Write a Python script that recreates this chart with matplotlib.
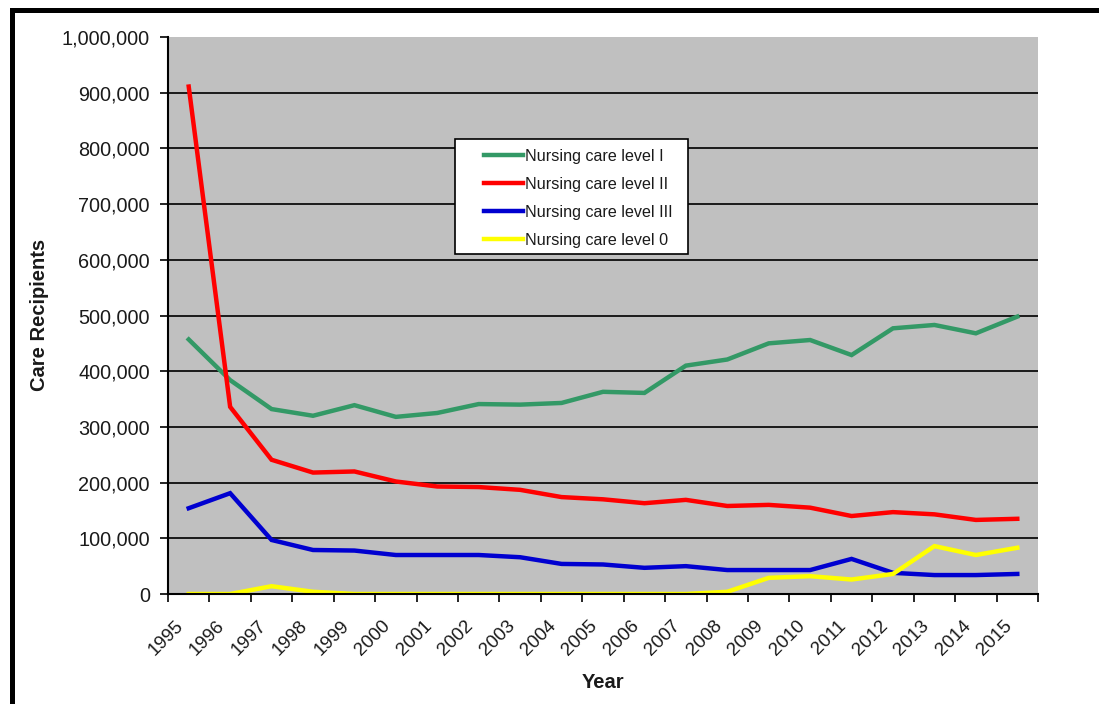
import matplotlib
matplotlib.use("Agg")
import matplotlib.pyplot as plt
from matplotlib.patches import Rectangle
from matplotlib.ticker import FuncFormatter, FixedLocator
from matplotlib.transforms import ScaledTranslation

plt.rcParams["font.family"] = ["Liberation Sans", "DejaVu Sans"]

years = [str(y) for y in range(1995, 2016)]

level_1 = [457000, 384000, 332000, 320000, 339000, 318000, 325000, 341000, 340000, 343000,
           363000, 361000, 410000, 421000, 450000, 456000, 429000, 477000, 483000, 468000, 498000]
level_2 = [911000, 336000, 241000, 218000, 220000, 202000, 193000, 192000, 187000, 174000,
           170000, 163000, 169000, 158000, 160000, 155000, 140000, 147000, 143000, 133000, 135000]
level_3 = [154000, 181000, 97000, 79000, 78000, 70000, 70000, 70000, 66000, 54000,
           53000, 47000, 50000, 43000, 43000, 43000, 63000, 38000, 34000, 34000, 36000]
level_0 = [0, 0, 14000, 4000, 0, 0, 0, 0, 0, 0,
           0, 0, 0, 4000, 29000, 32000, 26000, 36000, 86000, 70000, 83000]

series = [
    ("Nursing care level I", level_1, "#339966"),
    ("Nursing care level II", level_2, "#ff0000"),
    ("Nursing care level III", level_3, "#0000d0"),
    ("Nursing care level 0", level_0, "#ffff00"),
]

W, H = 1099, 704
fig = plt.figure(figsize=(W / 100, H / 100), dpi=100)
fig.patch.set_facecolor("white")

# outer black frame (cut off on the right and bottom like the original)
fig.patches.append(Rectangle((11.5 / W, -0.05), 1.2, (1 - 9.5 / H) + 0.05,
                             transform=fig.transFigure, fill=False,
                             lw=3.6, ec="black"))

ax = fig.add_axes([168 / W, 1 - 594 / H, (1038 - 168) / W, (594 - 37) / H])
ax.set_facecolor("#c0c0c0")

xs = [i + 0.5 for i in range(len(years))]
for label, vals, color in series:
    ax.plot(xs, vals, color=color, lw=3.2, label=label, solid_joinstyle="miter")

ax.set_xlim(0, len(years))
ax.set_ylim(0, 1000000)

# y axis
ax.set_yticks(range(0, 1000001, 100000))
ax.yaxis.set_major_formatter(FuncFormatter(lambda v, p: f"{v:,.0f}"))
ax.tick_params(axis="y", direction="out", length=6, width=1.2, pad=7,
               labelsize=14.3, labelcolor="#1a1a1a")
ax.yaxis.grid(True, color="#1a1a1a", lw=1.4)
ax.get_ygridlines()[-1].set_visible(False)
ax.get_ygridlines()[0].set_visible(False)
ax.set_axisbelow(True)

# x axis: labels at category centres, ticks at boundaries
ax.set_xticks(xs)
ax.set_xticklabels(years, rotation=45, ha="right", va="center",
                   rotation_mode="anchor", fontsize=13.5, color="#1a1a1a")
ax.tick_params(axis="x", which="major", length=0, pad=21)
ax.xaxis.set_minor_locator(FixedLocator(range(len(years) + 1)))
ax.tick_params(axis="x", which="minor", direction="out", length=6, width=1.2)
shift = ScaledTranslation(-8 / 100, 0, fig.dpi_scale_trans)
for lbl in ax.get_xticklabels():
    lbl.set_transform(lbl.get_transform() + shift)

for side in ["top", "right"]:
    ax.spines[side].set_visible(False)
for side in ["left", "bottom"]:
    ax.spines[side].set_color("black")
    ax.spines[side].set_linewidth(1.5)

fig.text(40 / W, 1 - 315 / H, "Care Recipients", rotation=90, ha="center",
         va="center", weight="bold", size=14.5, color="#1a1a1a")
fig.text(603 / W, 1 - 683 / H, "Year", ha="center", va="center",
         weight="bold", size=14.5, color="#1a1a1a")

# legend box
ax.add_patch(Rectangle((455 / W, 1 - 254 / H), 233 / W, 115 / H,
                       transform=fig.transFigure, facecolor="white",
                       edgecolor="black", lw=1.2, zorder=4, clip_on=False))
leg = ax.legend(loc="upper left", bbox_to_anchor=(476 / W, 1 - 141 / H),
                bbox_transform=fig.transFigure, frameon=False, borderpad=0,
                fontsize=11.6, handlelength=2.4, handletextpad=0.15,
                labelspacing=0.8)
for t in leg.get_texts():
    t.set_color("#1a1a1a")
leg.set_zorder(6)

fig.savefig("out.png", dpi=100)
